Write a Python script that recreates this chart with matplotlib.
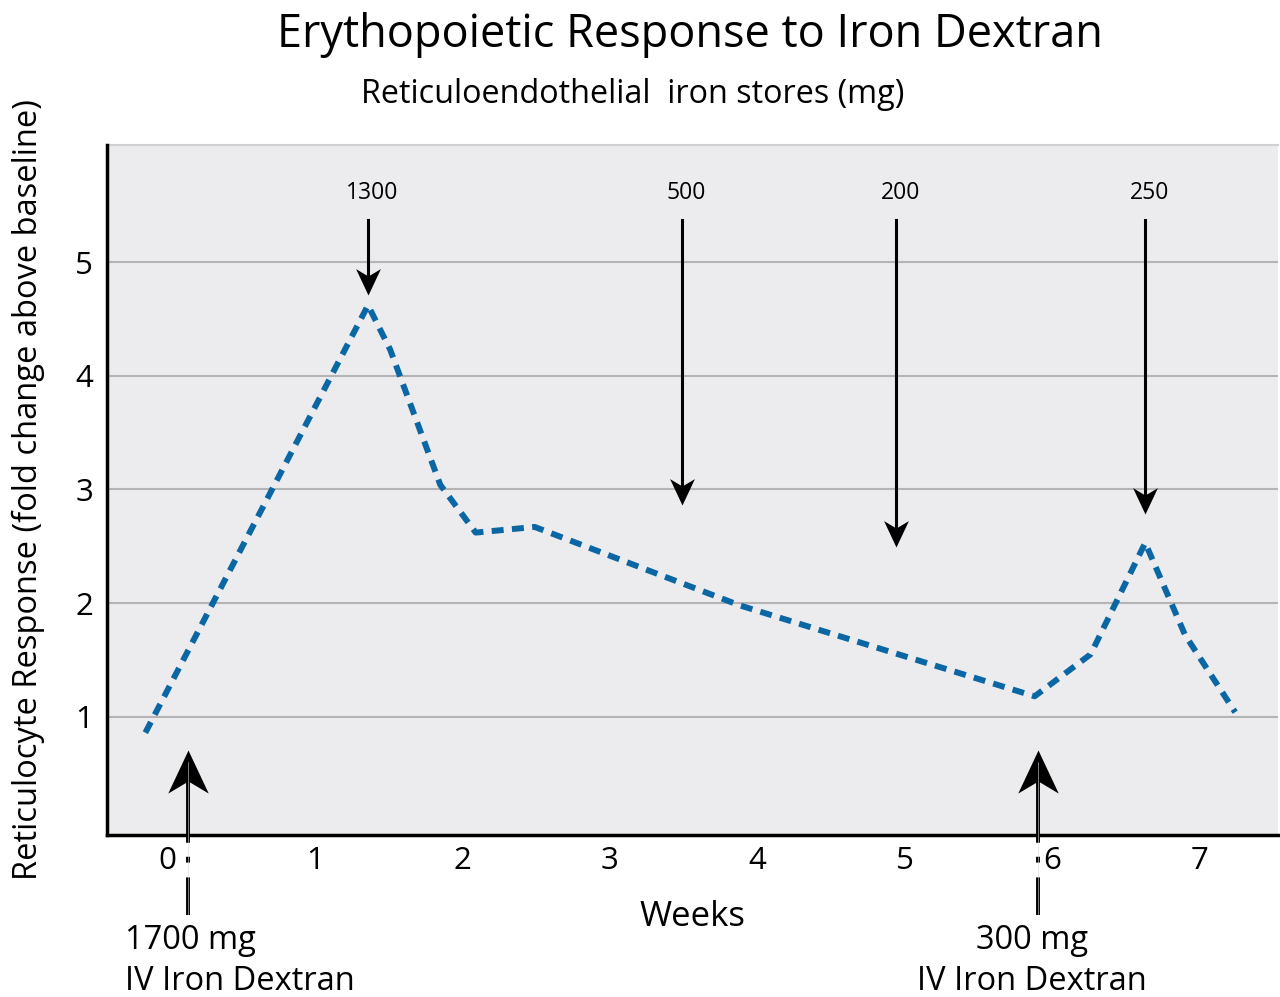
import numpy as np
import matplotlib.pyplot as plt
from matplotlib.path import Path

plt.rcParams['font.family'] = ['Open Sans', 'DejaVu Sans']

# reticulocyte response curve (weeks, fold change)
weeks = [-0.15, 1.36, 1.51, 1.85, 2.09, 2.49, 3.88, 5.88, 6.26, 6.63, 6.90, 7.24]
response = [0.86, 4.62, 4.23, 3.04, 2.62, 2.67, 1.98, 1.18, 1.55, 2.53, 1.72, 1.04]

# RE iron stores annotations
store_labels = ['1300', '500', '200', '250']
store_x = [1.36, 3.49, 4.94, 6.63]
store_tip = [4.71, 2.86, 2.49, 2.78]

# iron dextran doses
dose_x = [0.14, 5.90]
dose_labels = ['1700 mg\nIV Iron Dextran', '300 mg\nIV Iron Dextran']

fig = plt.figure(figsize=(12.8, 9.97), dpi=100)
ax = fig.add_axes([0.0836, 0.1625, 0.9148, 0.6921])
ax.set_facecolor('#ececef')
ax.set_xlim(-0.41, 7.53)
ax.set_ylim(-0.04, 6.03)

for y in [1, 2, 3, 4, 5]:
    ax.axhline(y, color='#b4b4b6', linewidth=1.5, zorder=1)

ax.plot(weeks, response, color='#0b67a3', linewidth=4.3, dashes=(2.0, 1.4), zorder=3)

# notched arrow head marker
head = Path([(0, 0), (-0.47, -1.0), (0, -0.72), (0.47, -1.0), (0, 0)],
            [Path.MOVETO, Path.LINETO, Path.LINETO, Path.LINETO, Path.CLOSEPOLY])
head_down = Path(head.vertices * [1, -1], head.codes)

for lab, x, tip in zip(store_labels, store_x, store_tip):
    ax.plot([x, x], [5.37, tip + 0.1], color='black', linewidth=2.2, zorder=4)
    ax.plot([x], [tip], marker=head_down, markersize=38, color='black',
            markeredgewidth=0, zorder=5)
    ax.text(x + 0.03, 5.61, lab, ha='center', va='center', fontsize=16.5)

for x in dose_x:
    ax.plot([x, x], [-0.04, 0.45], color='black', linewidth=2.8, zorder=4, clip_on=False)
    ax.plot([x, x], [-0.04, -0.74], color='black', linewidth=2.8,
            dashes=(2, 3.6, 1.5, 3.8, 12, 50), zorder=4, clip_on=False)
    ax.plot([x, x], [-0.74, 0.6], color='#d8d8da', linewidth=0.4, zorder=6, clip_on=False)
    ax.plot([x], [0.71], marker=head, markersize=62, color='black',
            markeredgewidth=0, zorder=5, clip_on=False)

for spine in ['top', 'right']:
    ax.spines[spine].set_visible(False)
for spine in ['left', 'bottom']:
    ax.spines[spine].set_linewidth(2.5)
ax.plot([-0.41, 7.53], [6.03, 6.03], color='#d0d0d2', linewidth=1.5, clip_on=False)

ax.set_xticks(range(8))
ax.set_yticks([1, 2, 3, 4, 5])
ax.tick_params(length=0, labelsize=22.5, pad=8)
ax.tick_params(axis='y', pad=10)

ax.set_ylabel('Reticulocyte Response (fold change above baseline)', fontsize=23.5, labelpad=22)
ax.set_xlabel('Weeks', fontsize=25, labelpad=17)

fig.text(0.539, 0.965, 'Erythopoietic Response to Iron Dextran', ha='center', va='center', fontsize=32.5)
fig.text(0.4945, 0.905, 'Reticuloendothelial  iron stores (mg)', ha='center', va='center', fontsize=23.3)

fig.text(0.098, 0.036, dose_labels[0], ha='left', va='center', fontsize=23.5, linespacing=1.3)
fig.text(0.806, 0.036, dose_labels[1], ha='center', va='center', fontsize=23.5,
         linespacing=1.3, multialignment='center')

fig.savefig('out.png', dpi=100)
